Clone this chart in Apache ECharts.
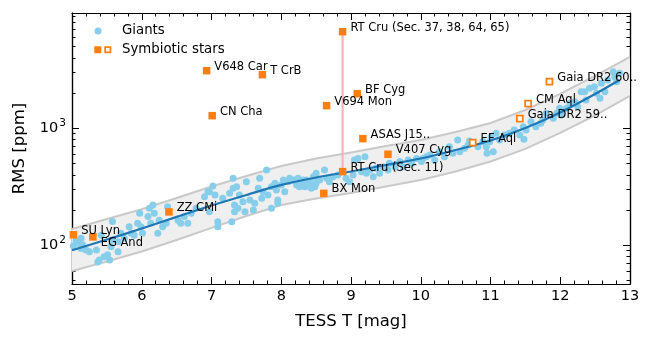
<!DOCTYPE html>
<html><head><meta charset="utf-8">
<script src="https://cdn.jsdelivr.net/npm/echarts@6/dist/echarts.min.js"></script>
<style>html,body{margin:0;padding:0;background:#fff}#c{width:652px;height:344px}</style>
</head><body><div id="c"></div>
<script>
// ---------- data ----------
const giantsMag = [
5.08,5.13,5.15,5.20,5.42,5.39,5.37,5.46,5.51,5.54,5.56,5.58,5.66,5.66,5.70,5.75,5.82,5.85,5.89,5.94,5.97,5.99,6.01,6.09,6.11,6.13,6.16,6.18,6.23,6.25,6.30,6.35,6.37,6.52,6.56,6.61,6.66,6.71,5.06,5.11,5.13,5.25,5.35,5.58,5.02,
7.02,6.97,7.05,7.09,7.09,7.29,7.16,7.26,7.31,7.31,7.36,7.33,7.38,7.33,7.40,7.45,7.48,7.50,7.55,7.60,7.62,7.67,7.69,7.72,7.74,7.79,7.81,7.86,7.86,7.91,7.93,7.95,7.95,8.00,8.03,8.05,8.10,8.12,8.17,8.22,8.24,8.29,8.34,8.36,8.41,8.48,8.50,8.48,6.78,6.90,6.95,6.97,
8.31,8.36,8.46,8.50,8.55,8.62,8.65,8.69,8.74,8.81,8.93,8.98,9.03,9.05,9.10,9.15,9.20,9.22,9.27,9.32,9.36,9.41,9.46,9.53,9.55,9.63,9.70,9.75,9.82,9.87,9.94,10.01,10.08,8.26,8.43,
10.03,10.13,10.20,10.27,10.34,10.41,10.46,10.53,10.56,10.63,10.68,10.82,10.89,10.94,10.99,11.04,11.01,11.08,11.13,11.20,11.27,11.34,11.42,11.47,11.48,10.95,10.70,
11.51,11.58,11.65,11.72,11.75,11.80,11.90,11.95,11.99,12.02,12.09,12.14,12.21,12.25,12.30,12.35,12.37,12.42,12.49,12.52,12.57,12.59,12.64,12.68,12.76,12.78,12.81,12.85
];
const giantsRms = [
107,115,101,91,122,75,72,80,83,75,97,111,88,107,127,115,144,127,122,154,188,144,127,176,207,154,221,188,127,164,144,154,214,164,154,176,154,188,110,103,94,88,91,160,99,
321,287,269,159,144,159,252,278,374,307,317,221,207,194,269,236,194,350,244,200,229,307,374,252,287,440,269,317,207,339,297,244,229,328,361,287,350,374,361,328,374,339,317,361,350,385,339,317,207,260,287,194,
361,339,385,412,361,440,374,350,385,399,374,350,399,536,553,426,571,412,440,385,455,412,470,440,502,470,519,470,536,502,553,519,571,317,307,
553,591,536,631,571,697,611,794,631,675,720,697,768,697,768,631,848,906,794,877,906,967,877,1032,806,611,780,
967,1138,1032,1104,1178,1343,1217,1343,1483,1300,1483,1637,1688,1530,2055,2055,1746,2198,2270,1991,1804,2426,2055,2588,3048,2761,2500,2951
];
const trendMag = [5,5.5,6,6.5,7,7.5,8,8.5,9,9.5,10,10.5,11,11.5,12,12.5,12.85];
const trendRms = [90.6,112,139,175,219,269,328,380,427,486,552,652,787,1006,1365,1965,2587];
const bandMag = [5,5.5,6,6.5,7,7.5,8,8.5,9,9.5,10,10.5,11,11.5,12,12.5,13];
const bandUpper = [138,168,203,254,318,391,476,552,621,706,794,930,1110,1433,1965,2799,4069];
const bandLower = [60.3,72.7,88.5,111,141,178,221,251,280,318,362,427,520,666,912,1287,1889];
const symNames = ['RT Cru (Sec. 37, 38, 64, 65)','V648 Car','T CrB','CN Cha','BF Cyg','V694 Mon','ASAS J15..','V407 Cyg','RT Cru (Sec. 11)','BX Mon','ZZ CMi','SU Lyn','EG And','EF Aql','Gaia DR2 59..','CM Aql','Gaia DR2 60..'];
const symMag = [8.88,6.93,7.73,7.01,9.09,8.65,9.17,9.53,8.88,8.61,6.39,5.02,5.30,10.745,11.42,11.54,11.845];
const symRms = [6692,3107,2871,1282,1976,1561,815,600,426,278,193,123,118,753,1208,1623,2502];
const symOpen = [false,false,false,false,false,false,false,false,false,false,false,false,false,true,true,true,true];
const xTickValues = [5,6,7,8,9,10,11,12,13];
const yMajorTicks = [100,1000];
const yMinorTicks = [50,60,70,80,90,200,300,400,500,600,700,800,900,2000,3000,4000,5000,6000,7000,8000,9000];
const rtCruLink = ['RT Cru (Sec. 11)','RT Cru (Sec. 37, 38, 64, 65)'];

// ---------- chart ----------
const FONT = 'DejaVu Sans';
const ORANGE = '#ff7f0e';
const yMin = 46.7, yMax = 9666;
const axisLineStyle = {color:'#000', width:1.2};
const tickStyle = {color:'#000', width:1};

function yAxisDef(pos, major, withLabel){
  return {
    type:'log', logBase:10, min:yMin, max:yMax, position:pos,
    axisLine:{show:true, onZero:false, lineStyle:axisLineStyle},
    axisTick:{show:true, inside:true, length: major?7:3.5, customValues: major?yMajorTicks:yMinorTicks, lineStyle:tickStyle},
    minorTick:{show:false},
    splitLine:{show:false},
    axisLabel: withLabel ? {
      show:true, customValues:yMajorTicks, margin:6,
      formatter: v => '{b|10}{s|' + Math.round(Math.log10(v)) + '}',
      rich:{
        b:{fontSize:14.5, fontFamily:FONT, color:'#000', lineHeight:22, verticalAlign:'middle'},
        s:{fontSize:10.5, fontFamily:FONT, color:'#000', verticalAlign:'top', padding:[0,0,0,1]}
      }
    } : {show:false},
    name: withLabel ? 'RMS [ppm]' : '',
    nameLocation:'middle', nameGap:44,
    nameTextStyle:{fontSize:16.5, fontFamily:FONT, color:'#000'}
  };
}
function xAxisDef(pos, withLabel){
  return {
    type:'value', min:xTickValues[0], max:xTickValues[xTickValues.length-1], interval:1, position:pos,
    axisLine:{show:true, onZero:false, lineStyle:axisLineStyle},
    axisTick:{show:true, inside:true, length:7, lineStyle:tickStyle},
    minorTick:{show:true, splitNumber:5, length:3.5, lineStyle:tickStyle},
    splitLine:{show:false},
    axisLabel: withLabel ? {show:true, margin:5, fontSize:14.5, fontFamily:FONT, color:'#000'} : {show:false},
    name: withLabel ? 'TESS T [mag]' : '',
    nameLocation:'middle', nameGap:29,
    nameTextStyle:{fontSize:16.5, fontFamily:FONT, color:'#000'}
  };
}

const giantsData = giantsMag.map((m,i)=>[m, giantsRms[i]]);
const trendData = trendMag.map((m,i)=>[m, trendRms[i]]);
const linkData = rtCruLink.map(n => { const i = symNames.indexOf(n); return [symMag[i], symRms[i]]; });
const symData = symNames.map((n,i)=>{
  const d = {name:n, value:[symMag[i], symRms[i]]};
  if (symOpen[i]) {
    d.symbolSize = 6;
    d.itemStyle = {color:'#fff', borderColor:ORANGE, borderWidth:1.8, opacity:1};
  }
  if (n === 'EG And') d.label = {offset:[0,6]};
  return d;
});

const chart = echarts.init(document.getElementById('c'), null, {renderer:'canvas'});
chart.setOption({
  animation:false,
  backgroundColor:'#fff',
  grid:{left:72, right:22, top:13, bottom:60, containLabel:false},
  legend:[
    {data:[{name:'Giants', icon:'circle'}], left:94.5, top:24.5, padding:0, itemWidth:7, itemHeight:7,
     selectedMode:false, textStyle:{fontSize:13.3, fontFamily:FONT, color:'#000', padding:[0,0,0,15.5]}},
    {data:[{name:'Symbiotic stars', icon:'path://M0,0H7V7H0Z M10,0H17V7H10Z M11.7,1.7V5.3H15.3V1.7Z'}], left:94.3, top:43.3, padding:0,
     itemWidth:17, itemHeight:7, selectedMode:false,
     textStyle:{fontSize:13.3, fontFamily:FONT, color:'#000', padding:[0,0,0,5.7]}}
  ],
  xAxis:[xAxisDef('bottom', true), xAxisDef('top', false)],
  yAxis:[yAxisDef('left', true, true), yAxisDef('right', true, false), yAxisDef('left', false, false), yAxisDef('right', false, false)],
  series:[
    {
      type:'custom', name:'band', xAxisIndex:0, yAxisIndex:0, clip:true, silent:true, z:1,
      data:[[bandMag[0], bandUpper[0]]],
      renderItem:(params, api)=>{
        const up = bandMag.map((m,i)=>api.coord([m, bandUpper[i]]));
        const lo = bandMag.map((m,i)=>api.coord([m, bandLower[i]]));
        return {type:'group', children:[
          {type:'polygon', shape:{points: up.concat(lo.slice().reverse())}, style:{fill:'#efefef', stroke:null}},
          {type:'polyline', shape:{points: up}, style:{stroke:'#c9c9c9', lineWidth:2, fill:null}},
          {type:'polyline', shape:{points: lo}, style:{stroke:'#c9c9c9', lineWidth:2, fill:null}}
        ]};
      }
    },
    {
      type:'scatter', name:'Giants', data:giantsData, symbol:'circle', symbolSize:7, z:2,
      itemStyle:{color:'#87ceeb', opacity:1}
    },
    {
      type:'line', name:'trend', data:trendData, smooth:0.3, showSymbol:false, z:3,
      lineStyle:{color:'#1f77b4', width:2.2}, silent:true
    },
    {
      type:'line', name:'link', data:linkData, showSymbol:false, z:4,
      lineStyle:{color:'#efb9b9', width:2.2}, silent:true
    },
    {
      type:'scatter', name:'Symbiotic stars', data:symData, symbol:'rect', symbolSize:7.5, z:5,
      itemStyle:{color:ORANGE, opacity:1},
      label:{show:true, position:'right', distance:4, offset:[0,-4], formatter:'{b}',
             fontSize:11.5, fontFamily:FONT, color:'#000', opacity:1}
    }
  ]
});
</script>
</body></html>
